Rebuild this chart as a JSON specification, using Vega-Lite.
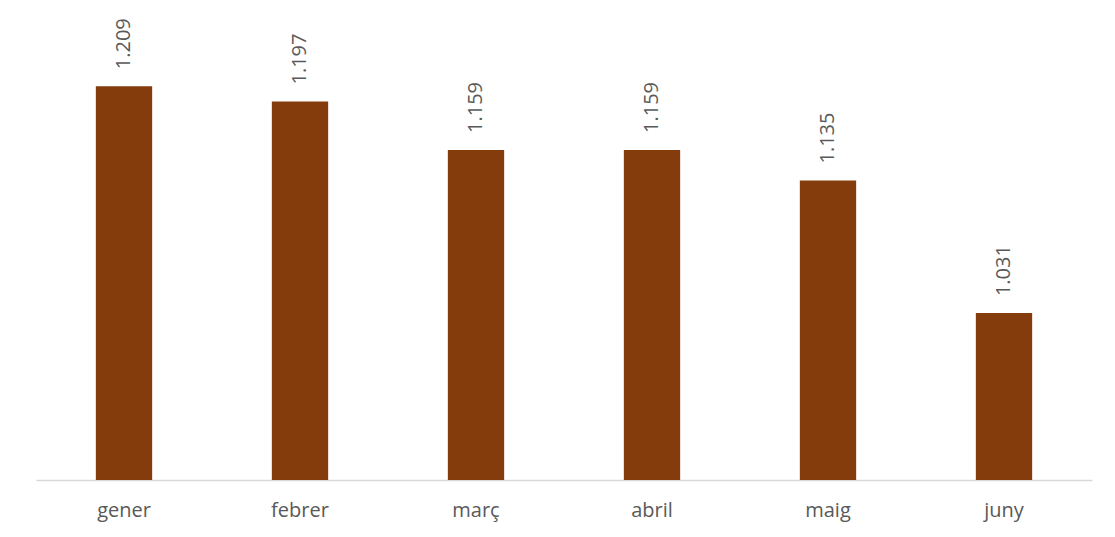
{
  "$schema": "https://vega.github.io/schema/vega-lite/v6.json",
  "width": 1056,
  "height": 446,
  "autosize": {"type": "none"},
  "padding": {"left": 36, "top": 34, "right": 23, "bottom": 57},
  "background": "white",
  "config": {
    "view": {"stroke": null},
    "font": "Open Sans",
    "locale": {"number": {"decimal": ",", "thousands": ".", "grouping": [3], "currency": ["", " €"]}}
  },
  "data": {"values": [
    {"mes": "gener", "valor": 1209},
    {"mes": "febrer", "valor": 1197},
    {"mes": "març", "valor": 1159},
    {"mes": "abril", "valor": 1159},
    {"mes": "maig", "valor": 1135},
    {"mes": "juny", "valor": 1031}
  ]},
  "encoding": {
    "x": {"field": "mes", "type": "nominal", "sort": null,
      "scale": {"paddingInner": 0.68, "paddingOuter": 0.34},
      "axis": {"title": null, "labelAngle": 0, "labelFontSize": 20, "labelColor": "#595959", "labelFont": "Open Sans", "domainColor": "#D9D9D9", "domainWidth": 1.5, "ticks": false, "labelPadding": 20}},
    "y": {"field": "valor", "type": "quantitative",
      "scale": {"domain": [900, 1250], "zero": false, "nice": false},
      "axis": null}
  },
  "layer": [
    {"mark": {"type": "bar", "color": "#843C0C", "clip": true}},
    {"mark": {"type": "text", "angle": -90, "align": "left", "baseline": "middle", "dx": 17, "fontSize": 20, "color": "#595959", "font": "Open Sans"},
     "encoding": {"text": {"field": "valor", "type": "quantitative", "format": ",d"}}}
  ]
}
